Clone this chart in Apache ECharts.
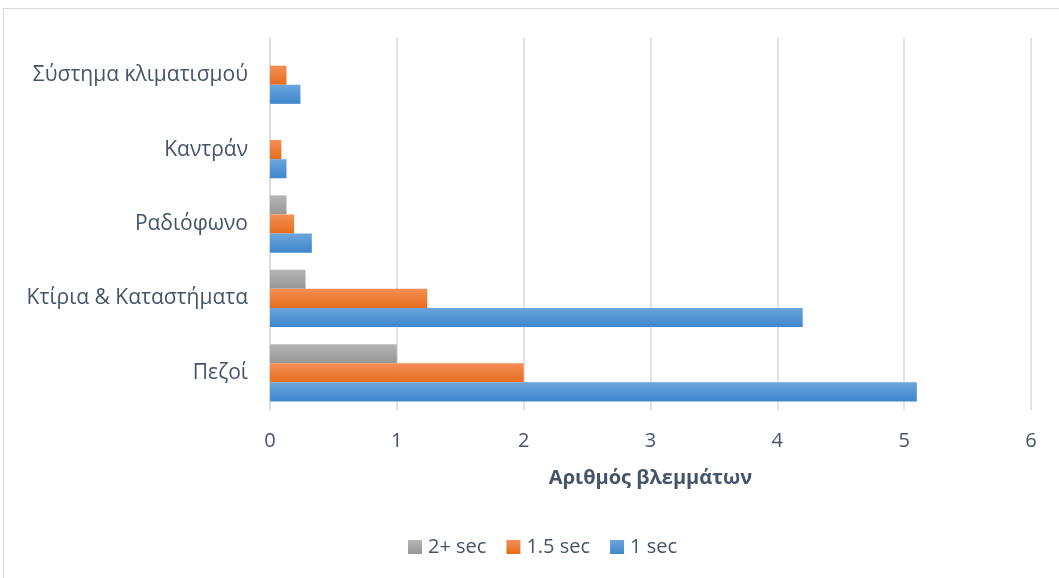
<!DOCTYPE html>
<html>
<head>
<meta charset="utf-8">
<script src="https://cdn.jsdelivr.net/npm/echarts@6/dist/echarts.min.js"></script>
<style>
  html, body { margin: 0; padding: 0; background: #fff; }
  #frame { position: absolute; left: 3px; top: 8px; width: 1060px; height: 580px; border: 1px solid #d9d9d9; box-sizing: border-box; }
  #chart { position: absolute; left: 0; top: 0; width: 1059px; height: 578px; }
</style>
</head>
<body>
<div id="frame"></div>
<div id="chart"></div>
<script>
// Categories listed bottom to top
const categories = ['Πεζοί', 'Κτίρια & Καταστήματα', 'Ραδιόφωνο', 'Καντράν', 'Σύστημα κλιματισμού'];
const oneSec = [5.1, 4.2, 0.33, 0.13, 0.24];
const oneHalfSec = [2.0, 1.24, 0.19, 0.09, 0.13];
const twoPlusSec = [1.0, 0.28, 0.13, 0, 0];
const xTicks = [0, 1, 2, 3, 4, 5, 6];

const textColor = '#44546A';
const font = '"Open Sans", "Noto Sans", sans-serif';

function grad(top, bottom) {
  return new echarts.graphic.LinearGradient(0, 0, 0, 1, [
    { offset: 0, color: top },
    { offset: 1, color: bottom }
  ]);
}

const chart = echarts.init(document.getElementById('chart'), null, { renderer: 'canvas' });
chart.setOption({
  animation: false,
  textStyle: { fontFamily: font },
  grid: { left: 270, right: 28, top: 38, bottom: 168 },
  legend: {
    bottom: 16,
    left: 403,
    itemWidth: 14,
    itemHeight: 14,
    itemGap: 20,
    icon: 'rect',
    data: ['2+ sec', '1.5 sec', '1 sec'],
    textStyle: { color: textColor, fontSize: 20, fontFamily: font, padding: [0, 0, 0, 1] }
  },
  xAxis: {
    type: 'value',
    min: xTicks[0],
    max: xTicks[xTicks.length - 1],
    interval: 1,
    name: 'Αριθμός βλεμμάτων',
    nameLocation: 'middle',
    nameGap: 58,
    nameTextStyle: { color: textColor, fontSize: 20, fontWeight: 'bold', fontFamily: font },
    axisLine: { show: false },
    axisTick: { show: false },
    axisLabel: { color: textColor, fontSize: 20, margin: 21, fontFamily: font },
    splitLine: { show: true, lineStyle: { color: '#d9d9d9', width: 1.5 } }
  },
  yAxis: {
    type: 'category',
    data: categories,
    axisLine: { show: true, lineStyle: { color: '#d9d9d9', width: 1.5 } },
    axisTick: { show: false },
    axisLabel: { color: textColor, fontSize: 21, margin: 22, fontFamily: font }
  },
  // Within each category the first series sits on top: 2+ sec, then 1.5 sec, then 1 sec
  series: [
    {
      name: '2+ sec', type: 'bar', data: twoPlusSec,
      barGap: '0%', barCategoryGap: '23%',
      itemStyle: { color: grad('#b5b5b5', '#969696') }
    },
    {
      name: '1.5 sec', type: 'bar', data: oneHalfSec,
      itemStyle: { color: grad('#f48f55', '#e66c1c') }
    },
    {
      name: '1 sec', type: 'bar', data: oneSec,
      itemStyle: { color: grad('#6ba5de', '#3f86cc') }
    }
  ]
});
</script>
</body>
</html>
